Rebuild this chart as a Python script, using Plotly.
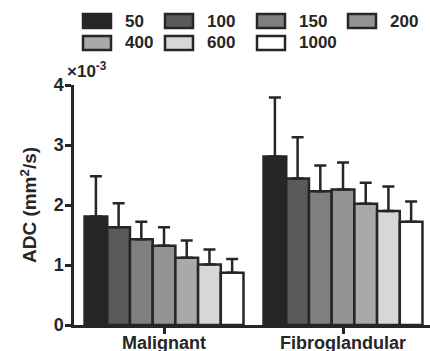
import plotly.graph_objects as go

categories = ["Malignant", "Fibroglandular"]
b_values = ["50", "100", "150", "200", "400", "600", "1000"]
# ADC means (x10^-3 mm^2/s)
mean_50 = [1.81, 2.81]
mean_100 = [1.63, 2.44]
mean_150 = [1.43, 2.23]
mean_200 = [1.32, 2.26]
mean_400 = [1.12, 2.02]
mean_600 = [1.01, 1.90]
mean_1000 = [0.87, 1.72]
# upper error bar (SD)
sd_50 = [0.67, 0.98]
sd_100 = [0.40, 0.69]
sd_150 = [0.29, 0.43]
sd_200 = [0.31, 0.45]
sd_400 = [0.29, 0.35]
sd_600 = [0.25, 0.41]
sd_1000 = [0.23, 0.34]
y_ticks = [0, 1, 2, 3, 4]

means = [mean_50, mean_100, mean_150, mean_200, mean_400, mean_600, mean_1000]
sds = [sd_50, sd_100, sd_150, sd_200, sd_400, sd_600, sd_1000]
colors = ["#262626", "#5a5a5a", "#7f7f7f", "#939393", "#a9a9a9", "#d7d7d7", "#ffffff"]
dark = "#262626"
FONT = "Arial, Liberation Sans, sans-serif"

W, H = 430, 351
L, R, T, B = 74, 0, 85, 26
pw, ph = W - L - R, H - T - B

fig = go.Figure()
for name, m, s, c in zip(b_values, means, sds, colors):
    fig.add_trace(go.Bar(
        x=categories, y=m, name=name,
        marker=dict(color=c, line=dict(color=dark, width=2.5)),
        error_y=dict(type="data", array=s, arrayminus=[0] * len(s), symmetric=False,
                     color=dark, thickness=2.5, width=6),
        showlegend=False,
    ))

def px_x(p):
    return (p - L) / pw

def px_y(p):
    return (H - B - p) / ph

shapes = []
annotations = []
# manual legend with wide swatches
legend_pos = [(83, 21), (165, 21), (257, 21), (348, 21), (83, 43), (165, 43), (257, 43)]
for (lx, ly), name, c in zip(legend_pos, b_values, colors):
    shapes.append(dict(type="rect", xref="paper", yref="paper",
                       x0=px_x(lx), x1=px_x(lx + 28), y0=px_y(ly - 7), y1=px_y(ly + 7),
                       fillcolor=c, line=dict(color=dark, width=2.5)))
    annotations.append(dict(xref="paper", yref="paper", x=px_x(lx + 40), y=px_y(ly),
                            xanchor="left", yanchor="middle", showarrow=False,
                            text="<b>%s</b>" % name,
                            font=dict(family=FONT, size=17, color=dark)))

annotations.append(dict(xref="paper", yref="paper", x=px_x(65), y=px_y(83),
                        xanchor="left", yanchor="bottom", showarrow=False,
                        text="<b>×10<sup>-3</sup></b>",
                        font=dict(family=FONT, size=17, color=dark)))

fig.update_layout(
    width=W, height=H,
    margin=dict(l=L, r=R, t=T, b=B, pad=0),
    paper_bgcolor="white", plot_bgcolor="white",
    barmode="group", bargap=0.112, bargroupgap=0,
    font=dict(family=FONT, color=dark),
    shapes=shapes, annotations=annotations,
    xaxis=dict(range=[-0.503, 1.486], showline=True, linecolor=dark, linewidth=2.5,
               ticks="outside", ticklen=6, tickwidth=2.5, tickcolor=dark,
               tickfont=dict(family=FONT, size=18, color=dark),
               tickvals=[0, 1], ticktext=["<b>%s</b>" % c for c in categories],
               ticklabelstandoff=-6,
               showgrid=False, zeroline=False, automargin=False),
    yaxis=dict(range=[0, 4], showline=True, linecolor=dark, linewidth=2.5,
               ticks="outside", ticklen=6, tickwidth=2.5, tickcolor=dark,
               tickvals=y_ticks, ticktext=["<b>%d</b>" % v for v in y_ticks],
               tickfont=dict(family=FONT, size=18, color=dark),
               ticklabelstandoff=-2,
               showgrid=False, zeroline=False, automargin=False,
               title=dict(text="<b>ADC (mm<sup>2</sup>/s)</b>", standoff=12,
                          font=dict(family=FONT, size=19, color=dark))),
)

fig.write_html("out.html", config={"displayModeBar": False},
               post_script="document.body.style.margin='0px';document.body.style.overflow='hidden';")
